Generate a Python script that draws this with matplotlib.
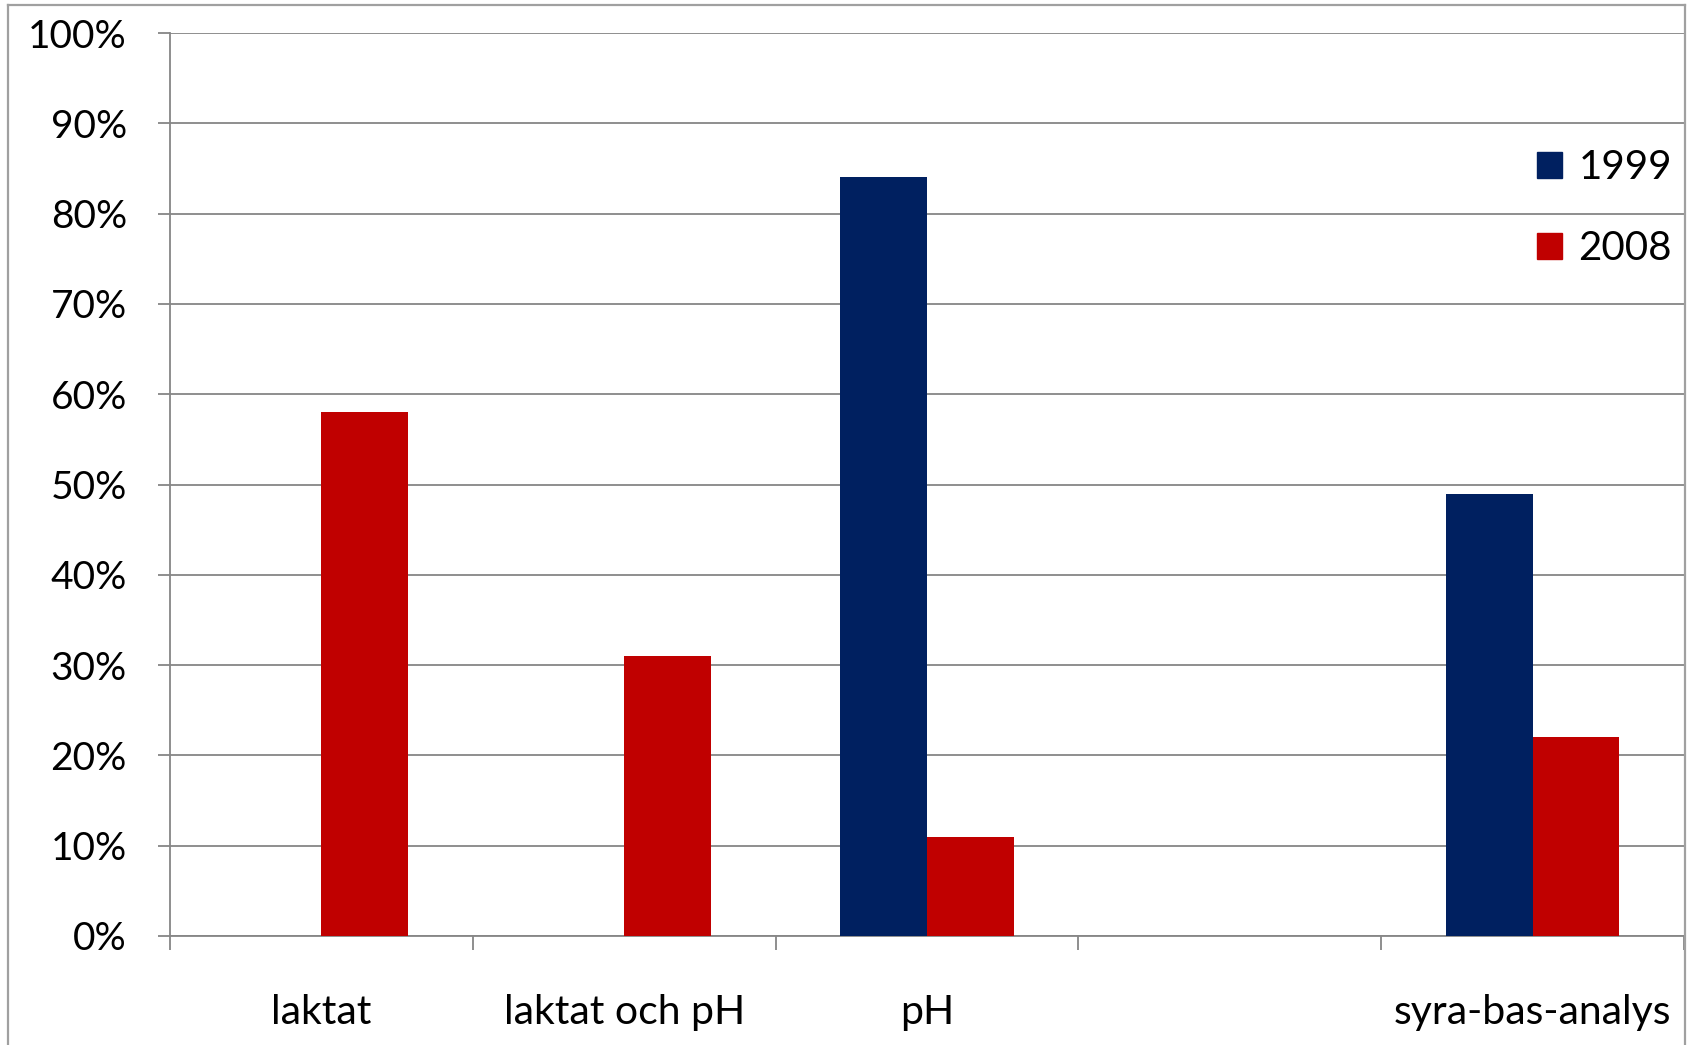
import matplotlib.pyplot as plt
import numpy as np
from matplotlib.lines import Line2D
from matplotlib.patches import Patch

categories = ['laktat', 'laktat och pH', 'pH', '', 'syra-bas-analys']
years = ['1999', '2008']
v1999 = [0, 0, 84, 0, 49]
v2008 = [58, 31, 11, 0, 22]
yticks = [0, 10, 20, 30, 40, 50, 60, 70, 80, 90, 100]

blue = '#002060'
red = '#C00000'
grey = '#868686'

plt.rcParams['font.family'] = ['Lato', 'DejaVu Sans']
fs = 28

fig = plt.figure(figsize=(16.94, 10.45), dpi=100)
ax = fig.add_axes([170 / 1694, 1 - 936 / 1045, (1684 - 170) / 1694, (936 - 33) / 1045])

x = np.arange(len(categories))
w = 2 / 7
ax.bar(x - w / 2, v1999, w, color=blue, linewidth=0, zorder=3)
ax.bar(x + w / 2, v2008, w, color=red, linewidth=0, zorder=3)

ax.set_xlim(-0.5, len(categories) - 0.5)
ax.set_ylim(0, 100)
ax.set_yticks(yticks)
ax.set_yticklabels(['%d%%' % v for v in yticks], fontsize=fs)
ax.yaxis.grid(True, color=grey, linewidth=1.3, zorder=0)

ax.set_xticks(x)
ax.set_xticklabels(categories, fontsize=29.5)
ax.set_xticks(np.arange(len(categories) + 1) - 0.5, minor=True)
ax.tick_params(axis='x', which='major', length=0, pad=42)
ax.tick_params(axis='x', which='minor', length=10, width=1.3, color=grey)
ax.tick_params(axis='y', length=9, width=1.3, color=grey, pad=22)

for s in ['top', 'right']:
    ax.spines[s].set_visible(False)
for s in ['left', 'bottom']:
    ax.spines[s].set_color(grey)
    ax.spines[s].set_linewidth(1.3)

handles = [Patch(color=blue), Patch(color=red)]
ax.legend(handles, years, loc='upper right', bbox_to_anchor=(0.992, 0.871),
          frameon=False, fontsize=29, handlelength=0.62, handleheight=0.62,
          handletextpad=0.4, labelspacing=1.08, borderaxespad=0, borderpad=0)

# outer chart frame
fx0, fx1 = 8 / 1694, 1685 / 1694
fy1 = 1 - 5 / 1045
fig.add_artist(Line2D([fx0, fx1], [fy1, fy1], color='#a0a0a0', lw=1.6))
fig.add_artist(Line2D([fx0, fx0], [0, fy1], color='#a0a0a0', lw=1.6))
fig.add_artist(Line2D([fx1, fx1], [0, fy1], color='#a0a0a0', lw=1.6))

fig.savefig('out.png', dpi=100)
